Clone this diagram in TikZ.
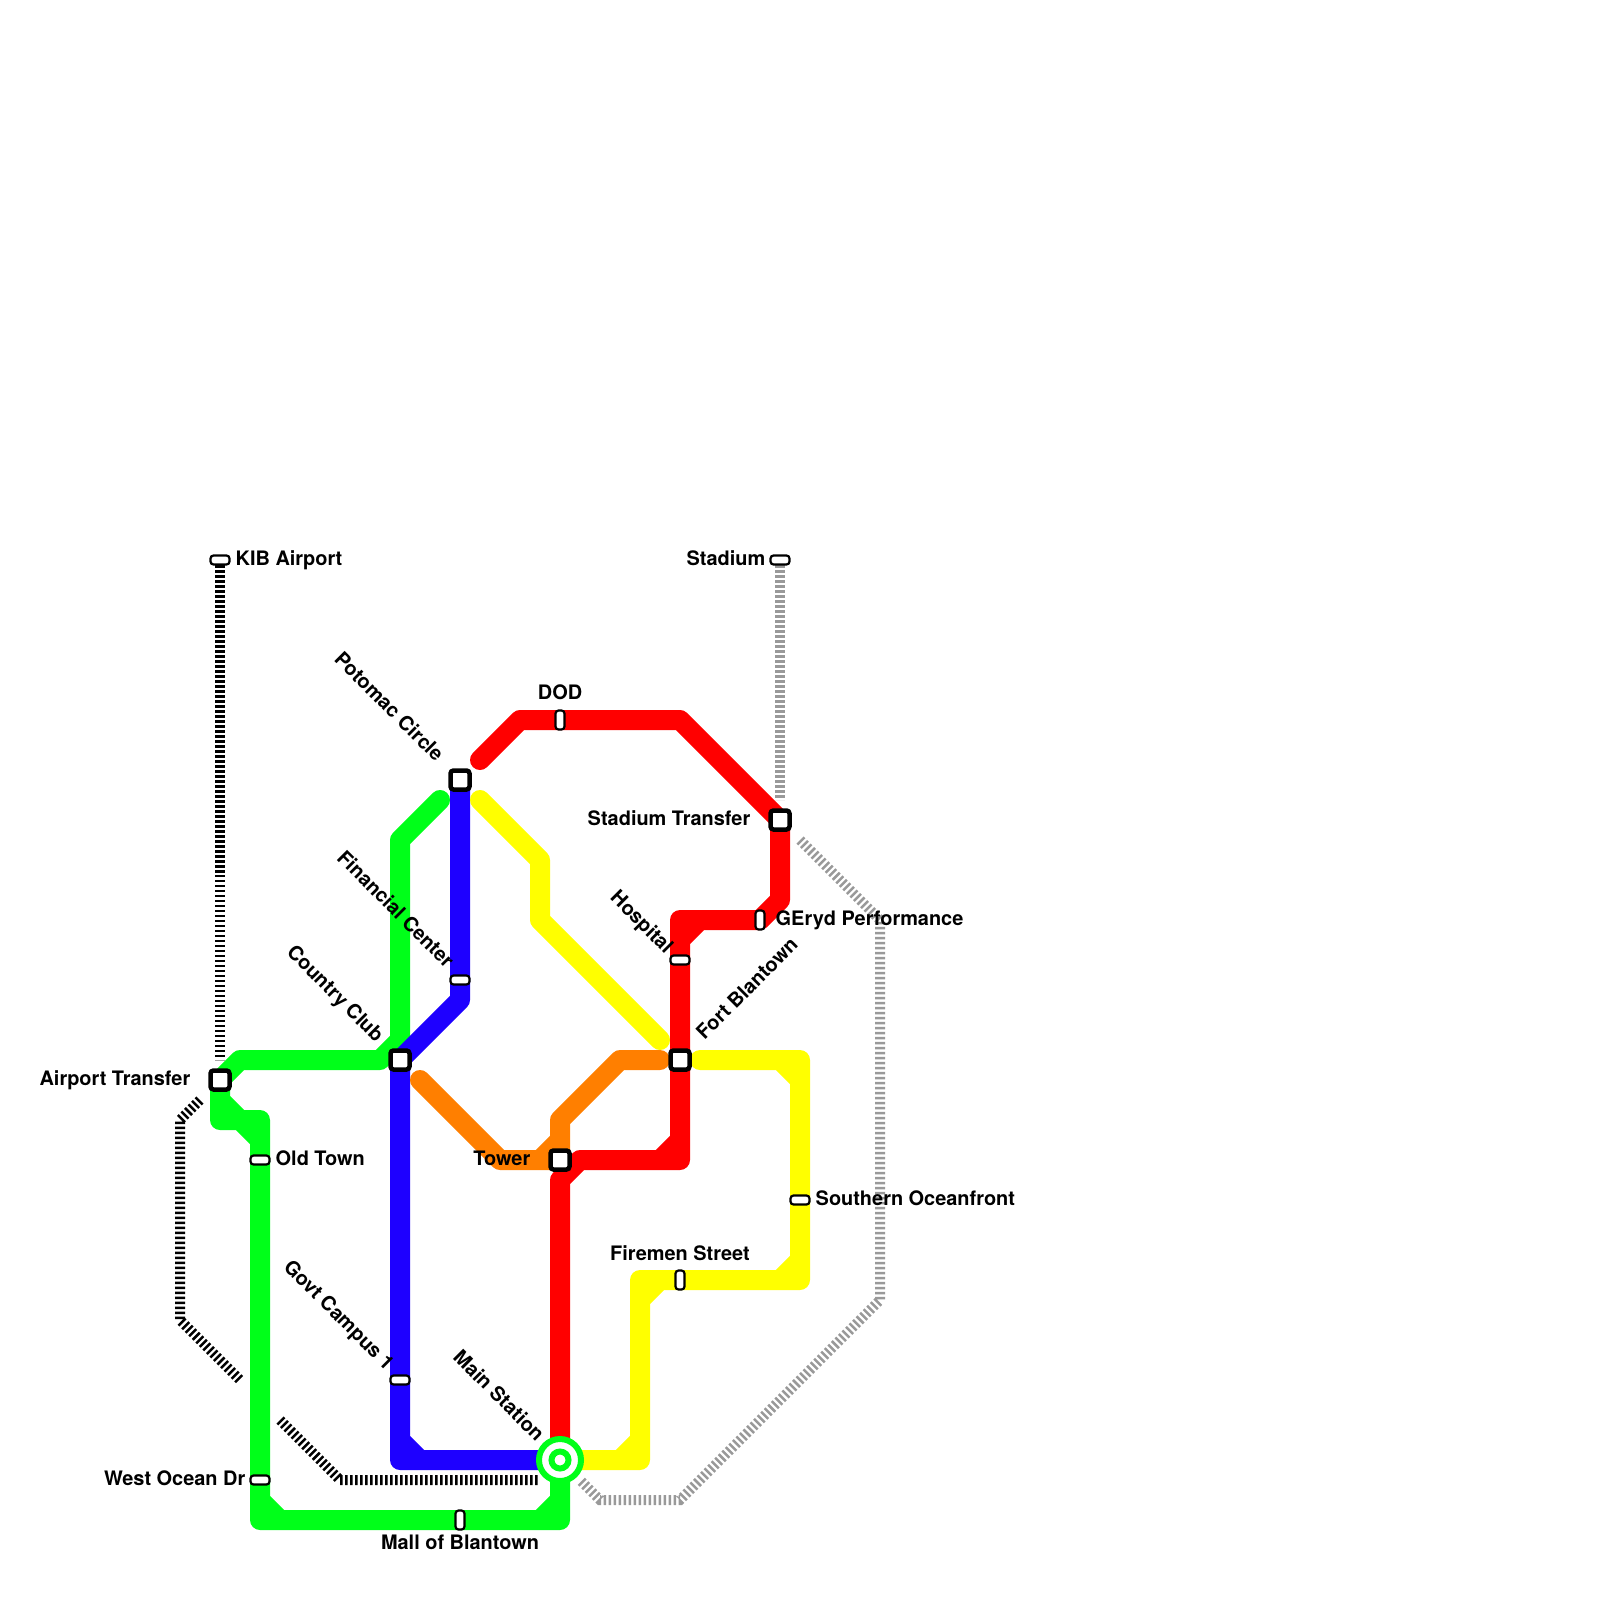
\documentclass[tikz,border=0pt]{standalone}
\usepackage{fontspec}
\setmainfont{TeX Gyre Heros}
\usetikzlibrary{backgrounds}
\definecolor{Rl}{HTML}{FF0000}
\definecolor{Gl}{HTML}{00FF19}
\definecolor{Bl}{HTML}{1E00FF}
\definecolor{Ol}{HTML}{FF7F00}
\definecolor{Yl}{HTML}{FFFF00}
\definecolor{railgray}{HTML}{999999}
\tikzset{
  route/.style={line width=2mm, line cap=round, line join=round},
  rail/.style={line width=1mm, dash pattern=on 0.25mm off 0.25mm},
  xfer/.style={rectangle, draw=black, fill=white, rounded corners=0.3mm, line width=0.45mm, inner sep=0pt, minimum size=1.9mm},
  stoph/.style={rectangle, draw=black, fill=white, rounded corners=0.3mm, line width=0.22mm, inner sep=0pt, minimum width=1.9mm, minimum height=0.9mm},
  stopv/.style={rectangle, draw=black, fill=white, rounded corners=0.3mm, line width=0.22mm, inner sep=0pt, minimum width=0.9mm, minimum height=1.9mm},
  hub/.style={circle, draw=Gl, fill=white, line width=0.6mm, inner sep=0pt, minimum size=4.2mm},
  hubcore/.style={circle, draw=Gl, fill=white, line width=0.6mm, inner sep=0pt, minimum size=1.7mm},
  lab/.style={font=\fontsize{5.67}{6.8}\selectfont\bfseries, inner sep=0pt},
}

\begin{document}
\begin{tikzpicture}[x=2mm, y=-2mm]
  \useasboundingbox (0,0) rectangle (80,80);
  % stations
  \node[xfer] (airport) at (11,54) {};
  \node[xfer] (country) at (20,53) {};
  \node[xfer] (potomac) at (23,39) {};
  \node[xfer] (stadiumtr) at (39,41) {};
  \node[xfer] (fort) at (34,53) {};
  \node[xfer] (tower) at (28,58) {};
  \node[stoph] (kib) at (11,28) {};
  \node[stoph] (stadium) at (39,28) {};
  \node[stoph] (oldtown) at (13,58) {};
  \node[stoph] (westocean) at (13,74) {};
  \node[stoph] (govt) at (20,69) {};
  \node[stoph] (financial) at (23,49) {};
  \node[stoph] (hospital) at (34,48) {};
  \node[stoph] (southern) at (40,60) {};
  \node[stopv] (dod) at (28,36) {};
  \node[stopv] (geryd) at (38,46) {};
  \node[stopv] (firemen) at (34,64) {};
  \node[stopv] (mall) at (23,76) {};
  \node[hub] (main) at (28,73) {};
  \node[hubcore] (maincore) at (main.center) {};
  % labels
  \node[lab, anchor=base west] (kiblbl) at (11.75,28.25) {KIB Airport};
  \node[lab, anchor=base east] (stadiumlbl) at (38.3,28.25) {Stadium};
  \node[lab, anchor=base east] (airportlbl) at (9.55,54.25) {Airport Transfer};
  \node[lab, anchor=base west] (oldtownlbl) at (13.75,58.25) {Old Town};
  \node[lab, anchor=base east] (westoceanlbl) at (12.3,74.25) {West Ocean Dr};
  \node[lab, anchor=base] (malllbl) at (23,77.45) {Mall of Blantown};
  \node[lab, anchor=base] (dodlbl) at (28,34.95) {DOD};
  \node[lab, anchor=base east] (stadiumtrlbl) at (37.55,41.25) {Stadium Transfer};
  \node[lab, anchor=base west] (gerydlbl) at (38.75,46.25) {GEryd Performance};
  \node[lab, anchor=base west] (southernlbl) at (40.75,60.25) {Southern Oceanfront};
  \node[lab, anchor=base] (firemenlbl) at (34,63) {Firemen Street};
  \node[lab, anchor=base east] (towerlbl) at (26.55,58.25) {Tower};
  \node[lab, rotate=-45, anchor=east] (potomaclbl) at (22.05,37.9) {Potomac Circle};
  \node[lab, rotate=-45, anchor=east] (countrylbl) at (18.98,52) {Country Club};
  \node[lab, rotate=-45, anchor=east] (financiallbl) at (22.56,48.21) {Financial Center};
  \node[lab, rotate=-45, anchor=east] (govtlbl) at (19.5,68.41) {Govt Campus 1};
  \node[lab, rotate=-45, anchor=east] (hospitallbl) at (33.46,47.57) {Hospital};
  \node[lab, rotate=-45, anchor=east] (mainlbl) at (27.08,71.88) {Main Station};
  \node[lab, rotate=45, anchor=west] (fortlbl) at (34.95,51.8) {Fort Blantown};
  % free ends of the lines
  \coordinate (greenend) at (22,40);
  \coordinate (redend) at (24,38);
  \coordinate (orangeend) at (21,54);
  \coordinate (orangetop) at (33,53);
  \coordinate (yellowend) at (24,40);
  \coordinate (yellowtop) at (33,52);
  \coordinate (yellowside) at (35,53);
  \begin{scope}[on background layer]
    \draw[rail, black] (kib.center) -- (11,53);
    \draw[rail, black] (10,55) -- (9,56) -- (9,66) -- (12,69);
    \draw[rail, black] (14,71) -- (17,74) -- (27,74);
    \draw[rail, railgray] (stadium.center) -- (39,40);
    \draw[rail, railgray] (40,42) -- (44,46) -- (44,65) -- (34,75) -- (30,75) -- (29,74);
    \draw[route, Gl] (greenend) -- (20,42) -- (20,52) -- (19,53) -- (12,53) -- (airport.center) -- (11,56) -- (12,56) -- (13,57) -- (oldtown.center) -- (westocean.center) -- (13,76) -- (mall.center) -- (28,76) -- (main.center)
      (11,55) -- (12,56) -- (13,56) -- (13,57) (13,75) -- (14,76) (27,76) -- (28,75);
    \draw[route, Bl] (potomac.center) -- (financial.center) -- (23,50) -- (country.center) -- (govt.center) -- (20,73) -- (main.center)
      (20,72) -- (21,73);
    \draw[route, Ol] (orangeend) -- (25,58) -- (tower.center) -- (28,56) -- (31,53) -- (orangetop)
      (27,58) -- (28,57);
    \draw[route, Yl] (yellowend) -- (27,43) -- (27,46) -- (yellowtop);
    \draw[route, Yl] (yellowside) -- (40,53) -- (southern.center) -- (40,64) -- (firemen.center) -- (32,64) -- (32,73) -- (main.center)
      (39,53) -- (40,54) (40,63) -- (39,64) (33,64) -- (32,65) (32,72) -- (31,73);
    \draw[route, Rl] (redend) -- (26,36) -- (dod.center) -- (34,36) -- (stadiumtr.center) -- (39,45) -- (geryd.center) -- (34,46) -- (hospital.center) -- (fort.center) -- (34,58) -- (29,58) -- (28,59) -- (main.center)
      (35,46) -- (34,47) (33,58) -- (34,57);
  \end{scope}
\end{tikzpicture}
\end{document}
